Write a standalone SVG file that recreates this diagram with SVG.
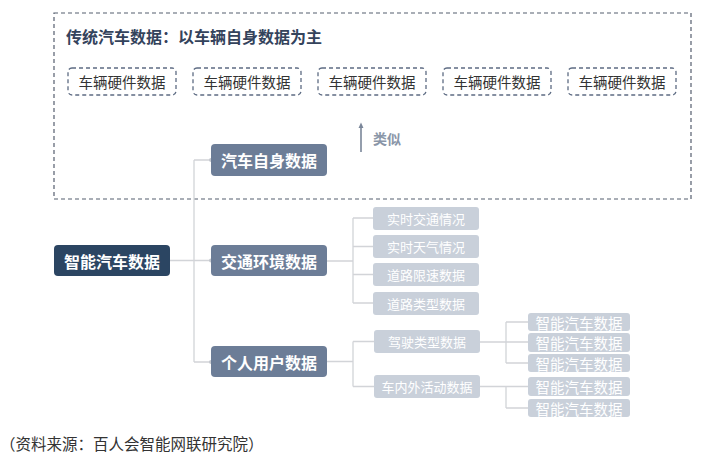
<svg xmlns="http://www.w3.org/2000/svg" width="713" height="463" viewBox="0 0 713 463">
<defs>
<style>
text{font-family:"Noto Sans CJK SC","Noto Sans",sans-serif;dominant-baseline:central;text-anchor:middle}
.hw rect{fill:#fff;stroke:#5d6b83;stroke-width:1.3;stroke-dasharray:4 3}
.hw text{font-size:14.5px;fill:#333}
.l2 rect{fill:#6c7d97}
.l2 text{font-size:16px;font-weight:bold;fill:#fff}
.l3 rect{fill:#c9d0da}
.l3 text{font-size:13px;fill:#fff}
.l4 rect{fill:#c9d0da}
.l4 text{font-size:14.5px;fill:#fff}
.conn{fill:none;stroke:#d2d4d8;stroke-width:1.3}
</style>
<marker id="ah" viewBox="0 0 10 10" refX="5" refY="5" markerWidth="4" markerHeight="4" orient="auto"><path d="M0,1 L9,5 L0,9 z" fill="#7a8699"/></marker>
</defs>
<rect width="713" height="463" fill="#fff"/>
<g id="traditional-frame">
<rect x="54" y="13" width="637" height="186" fill="none" stroke="#555e6e" stroke-width="1.2" stroke-dasharray="4 3"/>
<text x="66" y="36" style="text-anchor:start;font-size:16px;font-weight:bold;fill:#34435c">传统汽车数据：以车辆自身数据为主</text>
</g>
<g id="hw1" class="hw"><rect x="68" y="68" width="108" height="27" rx="4"/><text x="122" y="81.5">车辆硬件数据</text></g>
<g id="hw2" class="hw"><rect x="193" y="68" width="108" height="27" rx="4"/><text x="247" y="81.5">车辆硬件数据</text></g>
<g id="hw3" class="hw"><rect x="318" y="68" width="108" height="27" rx="4"/><text x="372" y="81.5">车辆硬件数据</text></g>
<g id="hw4" class="hw"><rect x="443" y="68" width="108" height="27" rx="4"/><text x="497" y="81.5">车辆硬件数据</text></g>
<g id="hw5" class="hw"><rect x="568" y="68" width="108" height="27" rx="4"/><text x="622" y="81.5">车辆硬件数据</text></g>
<g id="similar">
<line x1="361" y1="152" x2="361" y2="125" stroke="#7a8699" stroke-width="1.6" marker-end="url(#ah)"/>
<text x="373" y="137.5" style="text-anchor:start;font-size:14px;font-weight:bold;fill:#8a96a8">类似</text>
</g>
<g id="connectors">
<path class="conn" d="M170,260.5 H194 M194,160 V362 M194,160 H211 M194,260.5 H211 M194,362 H211"/>
<path class="conn" d="M327,261 H353 M353,218 V303 M353,218 H373 M353,246.5 H373 M353,274.5 H373 M353,303 H373"/>
<path class="conn" d="M327,361.5 H353 M353,341.5 V386.5 M353,341.5 H374 M353,386.5 H374"/>
<path class="conn" d="M480,342 H528 M506,322 V363 M506,322 H528 M506,363 H528"/>
<path class="conn" d="M480,386.5 H528 M506,386.5 V408 M506,408 H528"/>
<g fill="#c4c8ce"><circle cx="211" cy="160" r="2"/><circle cx="211" cy="260.5" r="2"/><circle cx="211" cy="362" r="2"/></g>
</g>
<g id="root"><rect x="54" y="245" width="116" height="31" rx="4" fill="#2b4562"/><text x="112" y="260.5" style="font-size:16px;font-weight:bold;fill:#fff">智能汽车数据</text></g>
<g id="n-self" class="l2"><rect x="211" y="144" width="116" height="32" rx="4"/><text x="269" y="160">汽车自身数据</text></g>
<g id="n-traffic" class="l2"><rect x="211" y="245" width="116" height="31" rx="4"/><text x="269" y="260.5">交通环境数据</text></g>
<g id="n-user" class="l2"><rect x="211" y="346" width="116" height="31" rx="4"/><text x="269" y="361.5">个人用户数据</text></g>
<g id="t1" class="l3"><rect x="373" y="207" width="106" height="23" rx="3"/><text x="426" y="218.5">实时交通情况</text></g>
<g id="t2" class="l3"><rect x="373" y="235" width="106" height="23" rx="3"/><text x="426" y="246.5">实时天气情况</text></g>
<g id="t3" class="l3"><rect x="373" y="263" width="106" height="23" rx="3"/><text x="426" y="274.5">道路限速数据</text></g>
<g id="t4" class="l3"><rect x="373" y="292" width="106" height="23" rx="3"/><text x="426" y="303.5">道路类型数据</text></g>
<g id="u1" class="l3"><rect x="374" y="330" width="106" height="23" rx="3"/><text x="427" y="341.5">驾驶类型数据</text></g>
<g id="u2" class="l3"><rect x="374" y="375" width="106" height="23" rx="3"/><text x="427" y="386.5">车内外活动数据</text></g>
<g id="d1" class="l4"><rect x="528" y="313" width="102" height="18" rx="3"/><text x="579" y="322">智能汽车数据</text></g>
<g id="d2" class="l4"><rect x="528" y="333" width="102" height="19" rx="3"/><text x="579" y="342.5">智能汽车数据</text></g>
<g id="d3" class="l4"><rect x="528" y="354" width="102" height="18" rx="3"/><text x="579" y="363">智能汽车数据</text></g>
<g id="d4" class="l4"><rect x="528" y="377" width="102" height="19" rx="3"/><text x="579" y="386.5">智能汽车数据</text></g>
<g id="d5" class="l4"><rect x="528" y="399" width="102" height="18" rx="3"/><text x="579" y="408">智能汽车数据</text></g>
<text x="0" y="443" style="text-anchor:start;font-size:15.5px;fill:#333">（资料来源：百人会智能网联研究院）</text>
</svg>
